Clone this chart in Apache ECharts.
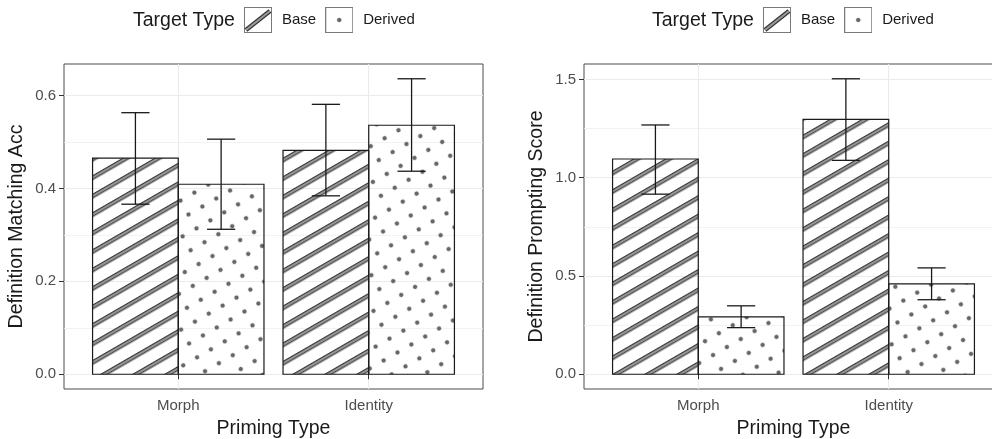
<!DOCTYPE html>
<html>
<head>
<meta charset="utf-8">
<script src="https://cdn.jsdelivr.net/npm/echarts@6/dist/echarts.min.js"></script>
<style>
  html, body { margin: 0; padding: 0; background: #fff; }
  #main { width: 992px; height: 439px; }
</style>
</head>
<body>
<div id="main"></div>
<script>
var categories = ['Morph', 'Identity'];

// left panel: definition matching accuracy
var accBase = [0.465, 0.482];
var accBaseLow = [0.366, 0.384];
var accBaseHigh = [0.563, 0.581];
var accDerived = [0.409, 0.536];
var accDerivedLow = [0.312, 0.437];
var accDerivedHigh = [0.506, 0.636];
var accTicks = [0, 0.2, 0.4, 0.6];
var accMinor = [0.1, 0.3, 0.5];

// right panel: definition prompting score
var promptBase = [1.095, 1.296];
var promptBaseLow = [0.916, 1.088];
var promptBaseHigh = [1.268, 1.503];
var promptDerived = [0.292, 0.460];
var promptDerivedLow = [0.237, 0.379];
var promptDerivedHigh = [0.348, 0.541];
var promptTicks = [0, 0.5, 1.0, 1.5];
var promptMinor = [0.25, 0.75, 1.25];

var FONT = '"Liberation Sans", Arial, sans-serif';
var INK = '#1a1a1a';

// pattern tiles
function stripeTile() {
  var c = document.createElement('canvas');
  c.width = 16; c.height = 16;
  var ctx = c.getContext('2d');
  ctx.fillStyle = '#333';
  ctx.fillRect(0, 6, 16, 4.4);
  ctx.fillStyle = '#9a9a9a';
  ctx.fillRect(0, 7.1, 16, 2.2);
  return c;
}
function dotTile() {
  var c = document.createElement('canvas');
  c.width = 16; c.height = 16;
  var ctx = c.getContext('2d');
  ctx.beginPath();
  ctx.arc(8, 8, 1.8, 0, Math.PI * 2);
  ctx.fillStyle = '#666';
  ctx.fill();
  ctx.lineWidth = 0.6;
  ctx.strokeStyle = '#333';
  ctx.stroke();
  return c;
}
var stripeFill = { image: stripeTile(), repeat: 'repeat', rotation: -Math.PI / 6 };
var dotFill = { image: dotTile(), repeat: 'repeat', rotation: -Math.PI / 6 };

function legendIcon(kind) {
  var c = document.createElement('canvas');
  c.width = 28; c.height = 26;
  var ctx = c.getContext('2d');
  ctx.fillStyle = '#fff';
  ctx.fillRect(0, 0, 28, 26);
  ctx.strokeStyle = '#7a7a7a';
  ctx.lineWidth = 1;
  ctx.strokeRect(0.5, 0.5, 27, 25);
  if (kind === 'base') {
    ctx.lineCap = 'butt';
    ctx.beginPath(); ctx.moveTo(2, 23); ctx.lineTo(26, 4);
    ctx.strokeStyle = '#333'; ctx.lineWidth = 4.4; ctx.stroke();
    ctx.beginPath(); ctx.moveTo(2, 23); ctx.lineTo(26, 4);
    ctx.strokeStyle = '#9a9a9a'; ctx.lineWidth = 2.2; ctx.stroke();
  } else {
    ctx.beginPath(); ctx.arc(14, 13, 1.8, 0, Math.PI * 2);
    ctx.fillStyle = '#666'; ctx.fill();
    ctx.strokeStyle = '#333'; ctx.lineWidth = 0.6; ctx.stroke();
  }
  return 'image://' + c.toDataURL();
}
var baseIcon = legendIcon('base');
var derivedIcon = legendIcon('derived');

function rows(vals, lows, highs) {
  return vals.map(function (v, i) { return [i, v, lows[i], highs[i]]; });
}

function barRender(offset, fill) {
  return function (params, api) {
    var x = api.value(0) + 1 + offset;
    var v = api.value(1), lo = api.value(2), hi = api.value(3);
    var p0 = api.coord([x - 0.225, v]);
    var p1 = api.coord([x + 0.225, 0]);
    var top = api.coord([x, hi]);
    var bot = api.coord([x, lo]);
    var cl = api.coord([x - 0.074, hi])[0];
    var cr = api.coord([x + 0.074, hi])[0];
    var line = { stroke: INK, lineWidth: 1.3 };
    return {
      type: 'group',
      children: [
        { type: 'rect', shape: { x: p0[0], y: p0[1], width: p1[0] - p0[0], height: p1[1] - p0[1] },
          style: { fill: fill, stroke: INK, lineWidth: 1.2 } },
        { type: 'line', shape: { x1: top[0], y1: top[1], x2: bot[0], y2: bot[1] }, style: line },
        { type: 'line', shape: { x1: cl, y1: top[1], x2: cr, y2: top[1] }, style: line },
        { type: 'line', shape: { x1: cl, y1: bot[1], x2: cr, y2: bot[1] }, style: line }
      ]
    };
  };
}

function xAxisFor(gridIndex) {
  return {
    type: 'value', gridIndex: gridIndex, min: 0.4, max: 2.6,
    name: 'Priming Type', nameLocation: 'middle', nameGap: 30,
    nameTextStyle: { fontSize: 19.5, color: INK, fontFamily: FONT },
    axisLine: { show: false },
    axisTick: { show: true, length: 5, customValues: [1, 2], lineStyle: { color: '#333' } },
    axisLabel: { customValues: [1, 2], margin: 9, fontSize: 15, color: '#4d4d4d', fontFamily: FONT,
      formatter: function (v) { return categories[Math.round(v) - 1]; } },
    splitLine: { show: true, lineStyle: { color: '#ebebeb', width: 1.1 } }
  };
}

function yAxesFor(gridIndex, ticks, minor, highs, name) {
  var hiMax = Math.max.apply(null, highs);
  var pad = hiMax * 0.05;
  var min = -pad, max = hiMax + pad;
  return [{
    type: 'value', gridIndex: gridIndex, min: min, max: max,
    name: name, nameLocation: 'middle', nameGap: 37,
    nameTextStyle: { fontSize: 19.5, color: INK, fontFamily: FONT },
    axisLine: { show: false },
    axisTick: { show: true, length: 5, customValues: ticks, lineStyle: { color: '#333' } },
    axisLabel: { customValues: ticks, margin: 8, fontSize: 15, color: '#4d4d4d', fontFamily: FONT,
      formatter: function (v) { return v.toFixed(1); } },
    splitLine: { show: true, lineStyle: { color: '#ebebeb', width: 1.1 } }
  }, {
    type: 'value', gridIndex: gridIndex, min: min, max: max, position: 'left',
    axisLine: { show: false },
    axisTick: { show: false, customValues: minor },
    axisLabel: { show: false, customValues: minor },
    splitLine: { show: true, lineStyle: { color: '#efefef', width: 0.8 } }
  }];
}

function legendFor(left) {
  return {
    left: left, top: 7, padding: 0, orient: 'horizontal',
    itemWidth: 28, itemHeight: 26, itemGap: 9, selectedMode: false,
    textStyle: { fontSize: 15, color: INK, fontFamily: FONT, padding: [0, 0, 0, 5] },
    data: [{ name: 'Base', icon: baseIcon }, { name: 'Derived', icon: derivedIcon }]
  };
}

var chart = echarts.init(document.getElementById('main'), null, { renderer: 'canvas' });
chart.setOption({
  animation: false,
  backgroundColor: '#fff',
  textStyle: { fontFamily: FONT },
  graphic: [
    { type: 'text', x: 133, y: 20.5, style: { text: 'Target Type', fill: INK, font: '19.5px ' + FONT, textVerticalAlign: 'middle' } },
    { type: 'text', x: 652, y: 20.5, style: { text: 'Target Type', fill: INK, font: '19.5px ' + FONT, textVerticalAlign: 'middle' } }
  ],
  legend: [legendFor(244), legendFor(763)],
  grid: [
    { left: 64, top: 64, width: 419, height: 325, outerBoundsMode: 'none', containLabel: false,
      show: true, borderColor: '#4d4d4d', borderWidth: 1, backgroundColor: 'transparent' },
    { left: 584, top: 64, width: 419, height: 325, outerBoundsMode: 'none', containLabel: false,
      show: true, borderColor: '#4d4d4d', borderWidth: 1, backgroundColor: 'transparent' }
  ],
  xAxis: [xAxisFor(0), xAxisFor(1)],
  yAxis: yAxesFor(0, accTicks, accMinor, accBaseHigh.concat(accDerivedHigh), 'Definition Matching Acc')
    .concat(yAxesFor(1, promptTicks, promptMinor, promptBaseHigh.concat(promptDerivedHigh), 'Definition Prompting Score')),
  series: [
    { name: 'Base', type: 'custom', xAxisIndex: 0, yAxisIndex: 0, renderItem: barRender(-0.225, stripeFill),
      data: rows(accBase, accBaseLow, accBaseHigh), encode: { x: 0, y: 1 } },
    { name: 'Derived', type: 'custom', xAxisIndex: 0, yAxisIndex: 0, renderItem: barRender(0.225, dotFill),
      data: rows(accDerived, accDerivedLow, accDerivedHigh), encode: { x: 0, y: 1 } },
    { name: 'Base', type: 'custom', xAxisIndex: 1, yAxisIndex: 2, renderItem: barRender(-0.225, stripeFill),
      data: rows(promptBase, promptBaseLow, promptBaseHigh), encode: { x: 0, y: 1 } },
    { name: 'Derived', type: 'custom', xAxisIndex: 1, yAxisIndex: 2, renderItem: barRender(0.225, dotFill),
      data: rows(promptDerived, promptDerivedLow, promptDerivedHigh), encode: { x: 0, y: 1 } }
  ]
});
</script>
</body>
</html>
